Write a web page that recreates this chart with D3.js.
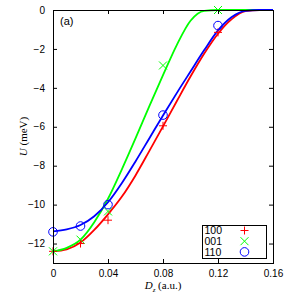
<!DOCTYPE html>
<html>
<head>
<meta charset="utf-8">
<script src="https://cdn.jsdelivr.net/npm/d3@7/dist/d3.min.js"></script>
<style>
  body { margin: 0; background: #fff; }
  svg { display: block; }
  .tick text { font-family: "Liberation Sans", Arial, sans-serif; font-size: 10px; fill: #000; }
</style>
</head>
<body>
<div id="chart"></div>
<script>
// measured points
var dPts = [0, 0.02, 0.04, 0.08, 0.12];
var u100 = [-12.4, -12.0, -10.8, -5.95, -1.15];
var u001 = [-12.4, -11.8, -10.35, -2.85, 0];
var u110 = [-11.4, -11.1, -10.0, -5.4, -0.8];

// fitted curves
var dFit = [0, 0.01, 0.02, 0.03, 0.04, 0.05, 0.06, 0.07, 0.08, 0.09, 0.10, 0.11, 0.12, 0.13, 0.14, 0.15, 0.16];
var fit100 = [-12.4, -12.3, -11.95, -11.3, -10.5, -9.6, -8.5, -7.25, -5.98, -4.69, -3.42, -2.24, -1.22, -0.47, -0.06, 0, 0];
var fit001 = [-12.4, -12.22, -11.8, -10.9, -9.7, -8.2, -6.6, -4.95, -3.35, -1.8, -0.55, -0.04, 0, 0, 0, 0, 0];
var fit110 = [-11.37, -11.27, -11.05, -10.6, -9.88, -8.9, -7.78, -6.6, -5.42, -4.27, -3.16, -2.06, -1.05, -0.36, -0.04, 0, 0];

var xTicks = [0, 0.04, 0.08, 0.12, 0.16];
var yTicks = [0, -2, -4, -6, -8, -10, -12];
var names = ["100", "001", "110"];
var colors = ["#ff0000", "#00ff00", "#0000ff"];
var symbols = ["plus", "cross", "circle"];

var W = 300, H = 307;
var pLeft = 53, pRight = 273, pTop = 10, pBottom = 263;

var svg = d3.select("#chart").append("svg")
    .attr("width", W)
    .attr("height", H);

var x = d3.scaleLinear().domain([0, 0.16]).range([pLeft, pRight]);
var y = d3.scaleLinear().domain([-13, 0]).range([pBottom, pTop]);

// axes, ticks pointing inward
var fmtX = function(d){ return d === 0 ? "0" : d3.format(".2f")(d); };
svg.append("g").attr("transform", "translate(0," + pBottom + ")")
    .call(d3.axisBottom(x).tickValues(xTicks).tickFormat(fmtX).tickSizeInner(-4).tickSizeOuter(0).tickPadding(7));
svg.append("g").attr("transform", "translate(0," + pTop + ")")
    .call(d3.axisTop(x).tickValues(xTicks).tickFormat("").tickSizeInner(-4).tickSizeOuter(0));
svg.append("g").attr("transform", "translate(" + pLeft + ",0)")
    .call(d3.axisLeft(y).tickValues(yTicks).tickFormat(d3.format("d")).tickSizeInner(-4).tickSizeOuter(0).tickPadding(8));
svg.append("g").attr("transform", "translate(" + pRight + ",0)")
    .call(d3.axisRight(y).tickValues(yTicks).tickFormat("").tickSizeInner(-4).tickSizeOuter(0));
svg.selectAll(".domain").remove();
svg.selectAll(".tick line").attr("stroke", "#000");

// curves
var fits = [fit100, fit001, fit110];
var line = d3.line()
    .x(function(d){ return x(d[0]); })
    .y(function(d){ return y(d[1]); })
    .curve(d3.curveMonotoneX);
fits.forEach(function(f, i){
    svg.append("path")
        .datum(dFit.map(function(d, j){ return [d, f[j]]; }))
        .attr("fill", "none")
        .attr("stroke", colors[i])
        .attr("stroke-width", 1.8)
        .attr("d", line);
});

// point symbols
function drawSym(g, type, cx, cy, col){
    var s = 4;
    if (type === "plus") {
        g.append("path").attr("d", "M" + (cx - s) + "," + cy + "H" + (cx + s) + "M" + cx + "," + (cy - s) + "V" + (cy + s))
            .attr("stroke", col).attr("stroke-width", 1).attr("fill", "none");
    } else if (type === "cross") {
        g.append("path").attr("d", "M" + (cx - s) + "," + (cy - s) + "L" + (cx + s) + "," + (cy + s) + "M" + (cx - s) + "," + (cy + s) + "L" + (cx + s) + "," + (cy - s))
            .attr("stroke", col).attr("stroke-width", 1).attr("fill", "none");
    } else {
        g.append("circle").attr("cx", cx).attr("cy", cy).attr("r", 4.3)
            .attr("stroke", col).attr("stroke-width", 1).attr("fill", "none");
    }
}
var pts = [u100, u001, u110];
var gPts = svg.append("g");
pts.forEach(function(p, i){
    dPts.forEach(function(d, j){
        drawSym(gPts, symbols[i], x(d), y(p[j]), colors[i]);
    });
});

// frame
svg.append("rect")
    .attr("x", pLeft + 0.5).attr("y", pTop + 0.5)
    .attr("width", pRight - pLeft).attr("height", pBottom - pTop)
    .attr("fill", "none").attr("stroke", "#000").attr("stroke-width", 1);

// panel label
svg.append("text").attr("x", 60).attr("y", 25)
    .attr("font-family", "Liberation Sans, Arial, sans-serif").attr("font-size", 11)
    .text("(a)");

// axis titles
var xl = svg.append("text").attr("x", 163).attr("y", 289)
    .attr("text-anchor", "middle")
    .attr("font-family", "Liberation Serif, Times New Roman, serif").attr("font-size", 11);
xl.append("tspan").attr("font-style", "italic").text("D");
xl.append("tspan").attr("font-style", "italic").attr("font-size", 7).attr("dy", 3).text("z");
xl.append("tspan").attr("dy", -3).text(" (a.u.)");

var yl = svg.append("text")
    .attr("transform", "translate(27," + ((pTop + pBottom) / 2) + ") rotate(-90)")
    .attr("text-anchor", "middle")
    .attr("font-family", "Liberation Serif, Times New Roman, serif").attr("font-size", 11);
yl.append("tspan").attr("font-style", "italic").text("U");
yl.append("tspan").text(" (meV)");

// legend
var lg = svg.append("g");
lg.append("rect").attr("x", 202.5).attr("y", 225.5).attr("width", 64).attr("height", 33)
    .attr("fill", "#fff").attr("stroke", "#000").attr("stroke-width", 1);
names.forEach(function(n, i){
    var cy = 230.5 + i * 10.7;
    lg.append("text").attr("x", 204.5).attr("y", cy + 3.8)
        .attr("font-family", "Liberation Sans, Arial, sans-serif").attr("font-size", 10.5)
        .text(n);
    drawSym(lg, symbols[i], 244.5, cy, colors[i]);
});
</script>
</body>
</html>
